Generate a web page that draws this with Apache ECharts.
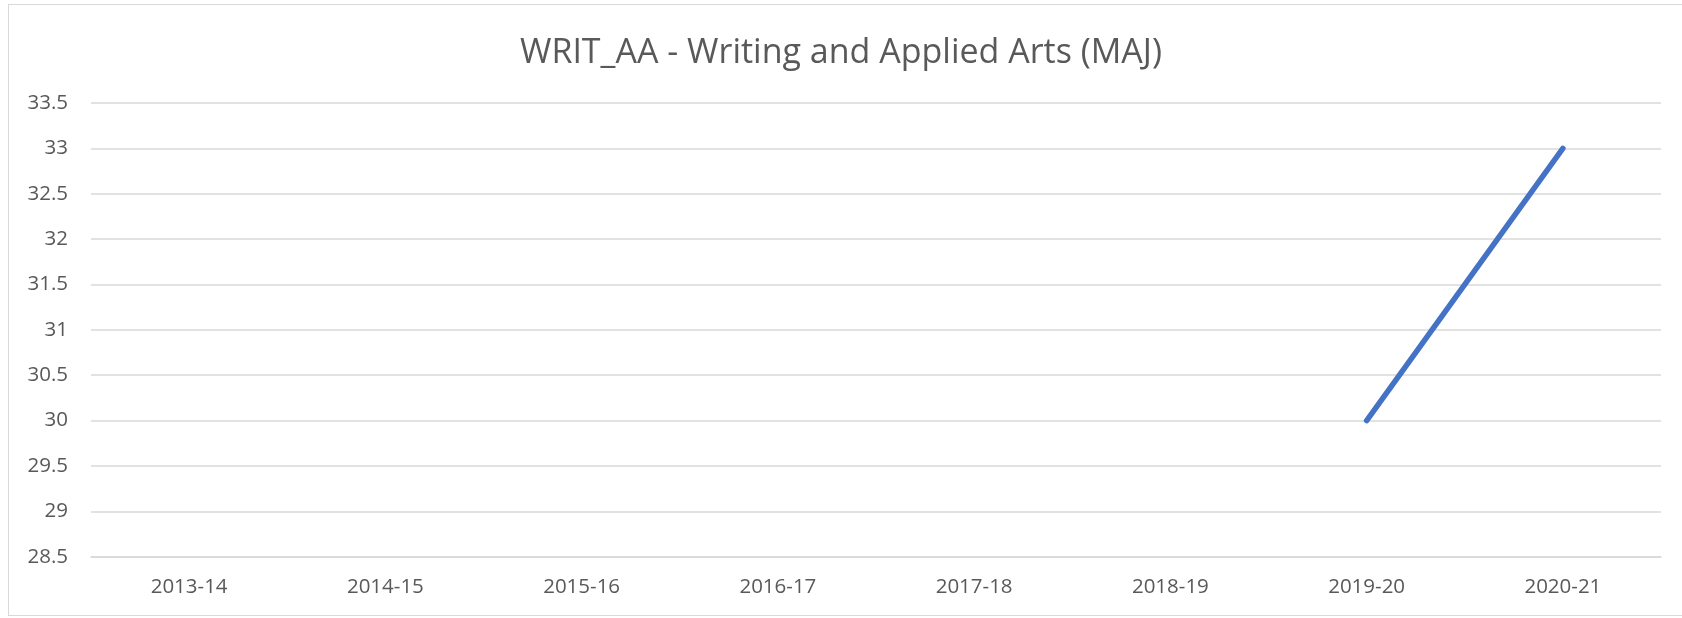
<!DOCTYPE html>
<html>
<head>
<meta charset="utf-8">
<script src="https://cdn.jsdelivr.net/npm/echarts@6/dist/echarts.min.js"></script>
<style>
html,body{margin:0;padding:0;background:#fff;}
#frame{position:absolute;left:8px;top:4px;width:1700px;height:612px;border:1.5px solid #d9d9d9;box-sizing:border-box;}
#chart{position:absolute;left:0;top:0;width:1682px;height:618px;}
</style>
</head>
<body>
<div id="frame"></div>
<div id="chart"></div>
<script>
const titleText = "WRIT_AA - Writing and Applied Arts (MAJ)";
const categories = ["2013-14","2014-15","2015-16","2016-17","2017-18","2018-19","2019-20","2020-21"];
const values = [null, null, null, null, null, null, 30, 33];
const yMin = 28.5, yMax = 33.5, yStep = 0.5;

const chart = echarts.init(document.getElementById('chart'));
chart.setOption({
  animation: false,
  title: {
    text: titleText,
    left: 'center',
    top: 31,
    textStyle: { fontFamily: 'Open Sans', fontSize: 34, fontWeight: 'normal', color: '#595959' }
  },
  grid: { left: 91, right: 21, top: 103, bottom: 61.3, containLabel: false },
  xAxis: {
    type: 'category',
    data: categories,
    boundaryGap: true,
    axisLine: { show: true, lineStyle: { color: '#d9d9d9', width: 1.5 } },
    axisTick: { show: false },
    axisLabel: { fontFamily: 'Open Sans', fontSize: 20.5, color: '#595959', margin: 20 }
  },
  yAxis: {
    type: 'value',
    min: yMin, max: yMax, interval: yStep,
    axisLine: { show: false },
    axisTick: { show: false },
    splitLine: { lineStyle: { color: '#d9d9d9', width: 1.5 } },
    axisLabel: { fontFamily: 'Open Sans', fontSize: 20.5, color: '#595959', margin: 23 }
  },
  series: [{
    type: 'line',
    data: values,
    showSymbol: false,
    connectNulls: false,
    lineStyle: { color: '#4472C4', width: 5.5, cap: 'round' },
    itemStyle: { color: '#4472C4' }
  }]
});
</script>
</body>
</html>
